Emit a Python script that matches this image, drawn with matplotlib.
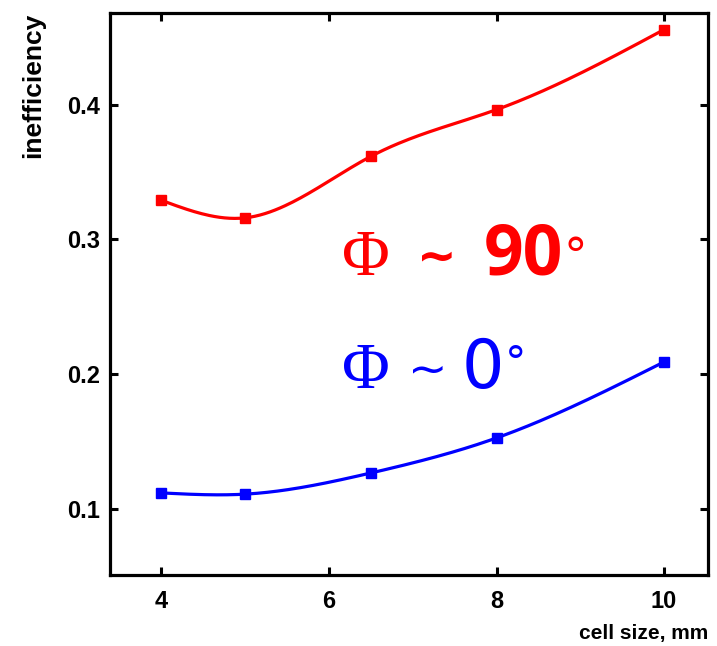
import numpy as np
import matplotlib
matplotlib.use('Agg')
import matplotlib.pyplot as plt

cell_size = [4, 5, 6.5, 8, 10]
ineff_90 = [0.329, 0.316, 0.3616, 0.3963, 0.4557]
ineff_0 = [0.1119, 0.1110, 0.1267, 0.1527, 0.2091]

x_ticks = [4, 6, 8, 10]
y_ticks = [0.1, 0.2, 0.3, 0.4]


def natural_spline(x, y, n=200):
    # smooth curve through the points, like the original plotting program did
    x = np.asarray(x, float)
    y = np.asarray(y, float)
    k = len(x)
    h = np.diff(x)
    A = np.zeros((k, k))
    b = np.zeros(k)
    A[0, 0] = A[-1, -1] = 1
    for i in range(1, k - 1):
        A[i, i - 1] = h[i - 1]
        A[i, i] = 2 * (h[i - 1] + h[i])
        A[i, i + 1] = h[i]
        b[i] = 6 * ((y[i + 1] - y[i]) / h[i] - (y[i] - y[i - 1]) / h[i - 1])
    m = np.linalg.solve(A, b)
    xs = np.linspace(x[0], x[-1], n)
    idx = np.clip(np.searchsorted(x, xs) - 1, 0, k - 2)
    x0, x1 = x[idx], x[idx + 1]
    hh = x1 - x0
    t0, t1 = x1 - xs, xs - x0
    ys = (m[idx] * t0**3 + m[idx + 1] * t1**3) / (6 * hh) \
        + (y[idx] / hh - m[idx] * hh / 6) * t0 \
        + (y[idx + 1] / hh - m[idx + 1] * hh / 6) * t1
    return xs, ys


fig = plt.figure(figsize=(7.17, 6.46), dpi=100)
ax = fig.add_axes([0.1534, 0.1099, 0.8340, 0.8700])

for yy, col in [(ineff_90, '#ff0000'), (ineff_0, '#0000ff')]:
    xs, ys = natural_spline(cell_size, yy)
    ax.plot(xs, ys, color=col, lw=2.3)
    ax.plot(cell_size, yy, ls='none', marker='s', ms=7, color=col)

ax.set_xlim(3.386, 10.524)
ax.set_ylim(0.051, 0.468)
ax.set_xticks(x_ticks)
ax.set_xticklabels([str(v) for v in x_ticks])
ax.set_yticks(y_ticks)
ax.set_yticklabels([f'{v:.1f}' for v in y_ticks])

for s in ax.spines.values():
    s.set_linewidth(2.3)
ax.tick_params(direction='in', length=6, width=2.2, top=True, right=True)
ax.tick_params(axis='x', pad=11)
ax.tick_params(axis='y', pad=7)
for lab in ax.get_xticklabels() + ax.get_yticklabels():
    lab.set_fontfamily('Liberation Sans')
    lab.set_fontweight('bold')
    lab.set_fontsize(17)

ax.set_xlabel('cell size, mm', loc='right', fontfamily='Liberation Sans',
              fontweight='bold', fontsize=15, labelpad=8)
ax.set_ylabel('inefficiency', loc='top', fontfamily='Liberation Sans',
              fontweight='bold', fontsize=19, labelpad=16)

# annotation pieces: serif Phi, tilde, value, degree ring
def phi_label(y_base, parts, col):
    for x0, s, fam, wt, fs, dy in parts:
        ax.text(x0, y_base + dy, s, color=col, fontfamily=fam, fontweight=wt,
                fontsize=fs, ha='left', va='baseline')

phi_label(0.2738, [
    (6.16, '\u03a6', 'Liberation Serif', 'normal', 47, 0),
    (7.05, '~', 'DejaVu Sans', 'bold', 34, 0.003),
    (7.85, '90', 'Open Sans', 'bold', 50, 0),
    (8.80, '\u00b0', 'DejaVu Sans', 'normal', 34, 0.003),
], '#ff0000')

phi_label(0.1900, [
    (6.16, '\u03a6', 'Liberation Serif', 'normal', 47, 0),
    (6.94, '~', 'DejaVu Sans', 'normal', 34, 0.003),
    (7.58, '0', 'DejaVu Sans', 'normal', 48, 0),
    (8.10, '\u00b0', 'DejaVu Sans', 'normal', 31, 0.008),
], '#0000ff')

plt.savefig('out.png', dpi=100)
plt.close()
